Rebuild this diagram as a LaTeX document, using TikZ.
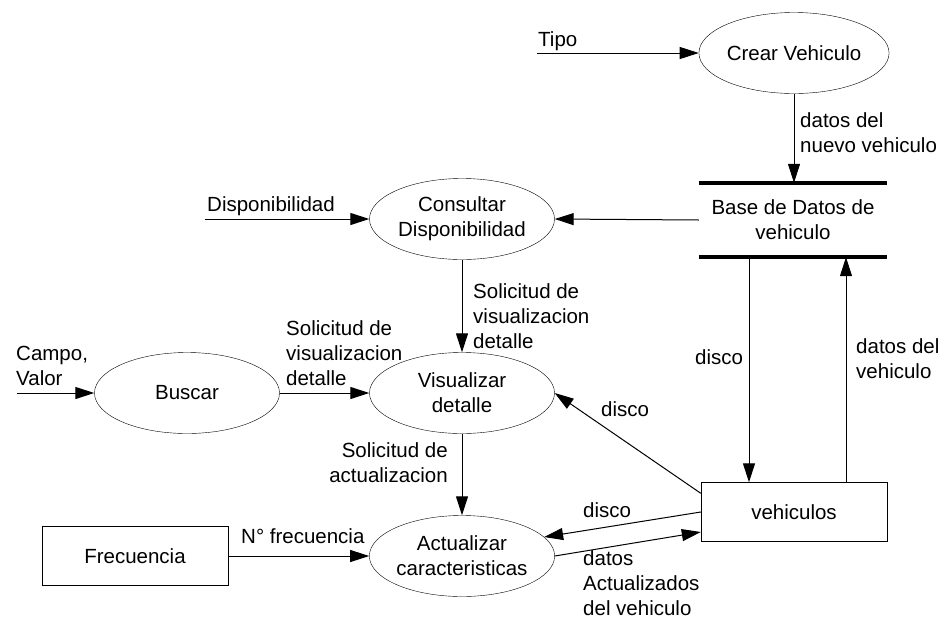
\documentclass[tikz,border=0pt]{standalone}
\usepackage{fontspec}
\setmainfont{Liberation Sans}
\usetikzlibrary{shapes.geometric,arrows.meta}
\begin{document}
\begin{tikzpicture}[x=1pt,y=-1pt,font=\fontsize{20.5}{25}\selectfont,
	proceso/.style={draw,ellipse,minimum width=185pt,minimum height=81pt,inner sep=0pt,align=center},
	caja/.style={draw,rectangle,minimum width=186pt,minimum height=59pt},
	flujo/.style={-{Triangle[length=19pt,width=12pt]},line width=1pt},
	etiq/.style={inner sep=0pt,align=left}]
			\useasboundingbox (0,0) rectangle (946,619);
			\node[proceso] (crear) at (794,53) {Crear Vehiculo};
			\node[proceso] (consultar) at (462,219) {Consultar\\Disponibilidad};
			\node[proceso] (buscar) at (187,393) {Buscar};
			\node[proceso] (visualizar) at (462,393) {Visualizar\\detalle};
			\node[proceso] (actualizar) at (462,556) {Actualizar\\caracteristicas};
			\node[caja] (frecuencia) at (135,556) {Frecuencia};
			\node[caja] (vehiculos) at (794,512) {vehiculos};
			\node[minimum width=188pt,minimum height=74pt,inner sep=0pt,align=center] (almacen) at (793,220) {Base de Datos de\\vehiculo};
			\draw[line width=3.5pt] (almacen.north west)--(almacen.north east);
			\draw[line width=3.5pt] (almacen.south west)--(almacen.south east);
			\coordinate (tipo) at (537,53);
			\coordinate (dispo) at (205,219);
			\coordinate (campo) at (17,393);
			\coordinate (bajada) at ([xshift=-44pt]almacen.south);
			\coordinate (subida) at ([xshift=52pt]vehiculos.north);
			\draw[flujo] (tipo)--(crear);
			\draw[flujo] (crear)--(crear |- almacen.north);
			\draw[flujo] (almacen.west)--(consultar.east);
			\draw[flujo] (dispo)--(consultar);
			\draw[flujo] (consultar)--(visualizar);
			\draw[flujo] (campo)--(buscar);
			\draw[flujo] (buscar)--(visualizar);
			\draw[flujo] (visualizar)--(actualizar);
			\draw[flujo] (frecuencia)--(actualizar);
			\draw[flujo] (bajada)--(bajada |- vehiculos.north);
			\draw[flujo] (subida)--(subida |- almacen.south);
			\draw[flujo] ([yshift=-11pt]vehiculos.north west)--(visualizar.east);
			\draw[flujo] (vehiculos.west)--(actualizar.13);
			\draw[flujo] (actualizar.east)--([yshift=-20pt]vehiculos.west);
			\node[etiq,anchor=base west] (l1) at (538,46) {Tipo};
			\node[etiq,anchor=base west] (l2) at (800,152) {datos del\\nuevo vehiculo};
			\node[etiq,anchor=base west] (l3) at (207,211) {Disponibilidad};
			\node[etiq,anchor=base west] (l4) at (473,348) {Solicitud de\\visualizacion\\detalle};
			\node[etiq,anchor=base west] (l5) at (16,385) {Campo,\\Valor};
			\node[etiq,anchor=base west] (l6) at (286,385) {Solicitud de\\visualizacion\\detalle};
			\node[etiq,anchor=base east,align=right] (l7) at (448,482) {Solicitud de\\actualizacion};
			\node[etiq,anchor=base west] (l8) at (241,543) {N° frecuencia};
			\node[etiq,anchor=base west] (l9) at (695,364) {disco};
			\node[etiq,anchor=base west] (l10) at (856,378) {datos del\\vehiculo};
			\node[etiq,anchor=base west] (l11) at (601,416) {disco};
			\node[etiq,anchor=base west] (l12) at (583,517) {disco};
			\node[etiq,anchor=base west] (l13) at (583,615) {datos\\Actualizados\\del vehiculo};
			\end{tikzpicture}
\end{document}
